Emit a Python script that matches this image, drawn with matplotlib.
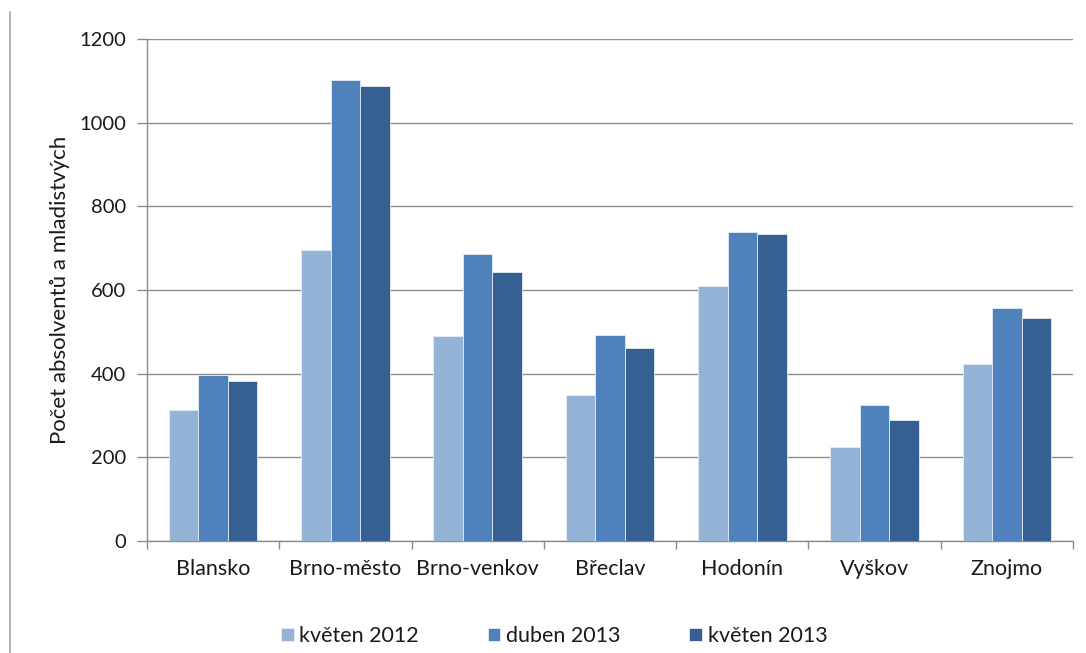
import matplotlib
matplotlib.use("Agg")
import matplotlib.pyplot as plt
from matplotlib.lines import Line2D
import numpy as np

plt.rcParams['font.family'] = ['Lato', 'DejaVu Sans']

districts = ["Blansko", "Brno-město", "Brno-venkov", "Břeclav", "Hodonín", "Vyškov", "Znojmo"]
series_names = ["květen 2012", "duben 2013", "květen 2013"]
kveten_2012 = [313, 696, 491, 350, 610, 225, 423]
duben_2013 = [398, 1103, 685, 493, 739, 324, 556]
kveten_2013 = [383, 1088, 642, 461, 734, 290, 533]
y_ticks = [0, 200, 400, 600, 800, 1000, 1200]

colors = ["#95B3D7", "#4F81BD", "#366092"]
grid_color = "#8C8C8C"
text_color = "#1a1a1a"

fig = plt.figure(figsize=(10.86, 6.53), dpi=100)
ax = fig.add_axes([147 / 1086, 1 - 541 / 653, (1073 - 147) / 1086, (541 - 39) / 653])

x = np.arange(len(districts))
width = 0.223
for i, (vals, name, col) in enumerate(zip([kveten_2012, duben_2013, kveten_2013], series_names, colors)):
    ax.bar(x + (i - 1) * width, vals, width, color=col, label=name,
           edgecolor="#E4ECF6", linewidth=0.6, zorder=3)

ax.set_xlim(-0.5, len(districts) - 0.5)
ax.set_ylim(0, 1200)
ax.set_yticks(y_ticks)
ax.set_yticklabels([str(v) for v in y_ticks])
ax.yaxis.grid(True, color=grid_color, linewidth=1.0, zorder=0)
ax.set_axisbelow(True)

# category labels centred, tick marks on category boundaries
ax.set_xticks(x)
ax.set_xticklabels(districts)
ax.tick_params(axis="x", which="major", length=0, pad=13, labelsize=15.5, labelcolor=text_color)
ax.set_xticks(np.arange(-0.5, len(districts)), minor=True)
ax.tick_params(axis="x", which="minor", length=6, width=1, color=grid_color, direction="out")
ax.tick_params(axis="y", length=7, width=1, color=grid_color, pad=8, labelsize=14.5, labelcolor=text_color)

for side in ["top", "right"]:
    ax.spines[side].set_visible(False)
for side in ["left", "bottom"]:
    ax.spines[side].set_color(grid_color)
    ax.spines[side].set_linewidth(1.0)

ax.set_ylabel("Počet absolventů a mladistvých", fontsize=16, color=text_color, labelpad=7)

leg = fig.legend(loc="center", bbox_to_anchor=(554 / 1086, 1 - 636 / 653), ncol=3, frameon=False,
                 fontsize=15.5, handlelength=0.6, handleheight=0.6, handletextpad=0.25,
                 columnspacing=3.2)
for t in leg.get_texts():
    t.set_color(text_color)

# outer frame edge on the left
fig.add_artist(Line2D([10 / 1086, 10 / 1086], [0, 1 - 12 / 653], transform=fig.transFigure,
                      color="#A6A6A6", linewidth=1.2))

fig.savefig("out.png", dpi=100)
